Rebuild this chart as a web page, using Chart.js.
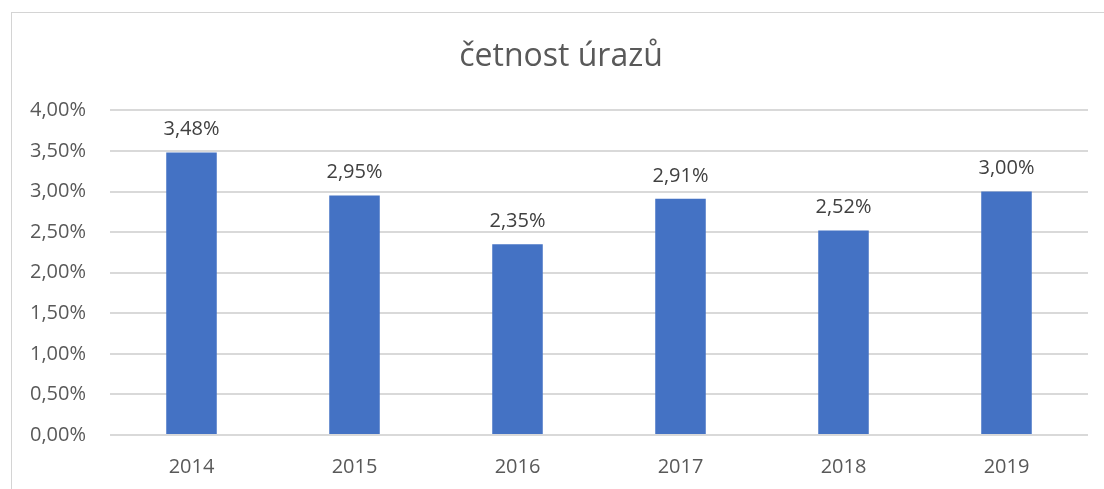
<!DOCTYPE html>
<html>
<head>
<meta charset="utf-8">
<script src="https://cdn.jsdelivr.net/npm/chart.js@4"></script>
<style>
  html, body { margin: 0; padding: 0; background: #ffffff; }
  #wrap { position: relative; width: 1104px; height: 489px; overflow: hidden; }
  #frame { position: absolute; left: 11px; top: 12px; width: 1200px; height: 600px;
           border-left: 1px solid #d4d4d4; border-top: 1px solid #d4d4d4; }
  #c { position: absolute; left: 0; top: 0; }
</style>
</head>
<body>
<div id="wrap">
  <div id="frame"></div>
  <canvas id="c" width="1104" height="489"></canvas>
</div>
<script>
const title = "četnost úrazů";
const categories = ["2014", "2015", "2016", "2017", "2018", "2019"];
const values = [3.48, 2.95, 2.35, 2.91, 2.52, 3.00];
const yMin = 0, yMax = 4, yStep = 0.5;

const FONT = "'Open Sans', sans-serif";
const fmt = v => v.toFixed(2).replace('.', ',') + '%';

const labelPlugin = {
  id: 'barLabels',
  afterDatasetsDraw(chart) {
    const ctx = chart.ctx;
    const meta = chart.getDatasetMeta(0);
    ctx.save();
    ctx.font = "20px " + FONT;
    ctx.fillStyle = '#404040';
    ctx.textAlign = 'center';
    ctx.textBaseline = 'middle';
    meta.data.forEach((bar, i) => {
      ctx.fillText(fmt(values[i]), bar.x, bar.y - 23);
    });
    // chart title, centred over the outer frame
    const tb = chart.titleBlock;
    ctx.font = "32px " + FONT;
    ctx.fillStyle = '#595959';
    ctx.fillText(title, 561, tb.top + 38 + 32 * 1.2 / 2);
    ctx.restore();
  }
};

new Chart(document.getElementById('c'), {
  type: 'bar',
  data: {
    labels: categories,
    datasets: [{
      data: values,
      backgroundColor: '#4472C4',
      borderWidth: 0,
      categoryPercentage: 1,
      barPercentage: 0.31
    }]
  },
  options: {
    responsive: false,
    animation: false,
    devicePixelRatio: 1,
    layout: { padding: { left: 0, right: 16, top: 0, bottom: 0 } },
    plugins: {
      legend: { display: false },
      tooltip: { enabled: false },
      title: {
        display: true,
        text: title,
        color: 'rgba(0,0,0,0)',
        font: { family: FONT, size: 32, weight: 'normal' },
        padding: { top: 38, bottom: 34 }
      }
    },
    scales: {
      x: {
        grid: { display: false, drawBorder: false },
        border: { display: false },
        ticks: { color: '#595959', font: { family: FONT, size: 20 }, padding: 12 },
        afterFit(s) { s.height = 54; }
      },
      y: {
        min: yMin, max: yMax,
        grid: { color: '#d9d9d9', lineWidth: 2, drawTicks: false },
        border: { display: false },
        ticks: { stepSize: yStep, color: '#595959', font: { family: FONT, size: 20 }, padding: 24,
                 callback: v => fmt(v) },
        afterFit(s) { s.width = 110; }
      }
    }
  },
  plugins: [labelPlugin]
});
</script>
</body>
</html>
